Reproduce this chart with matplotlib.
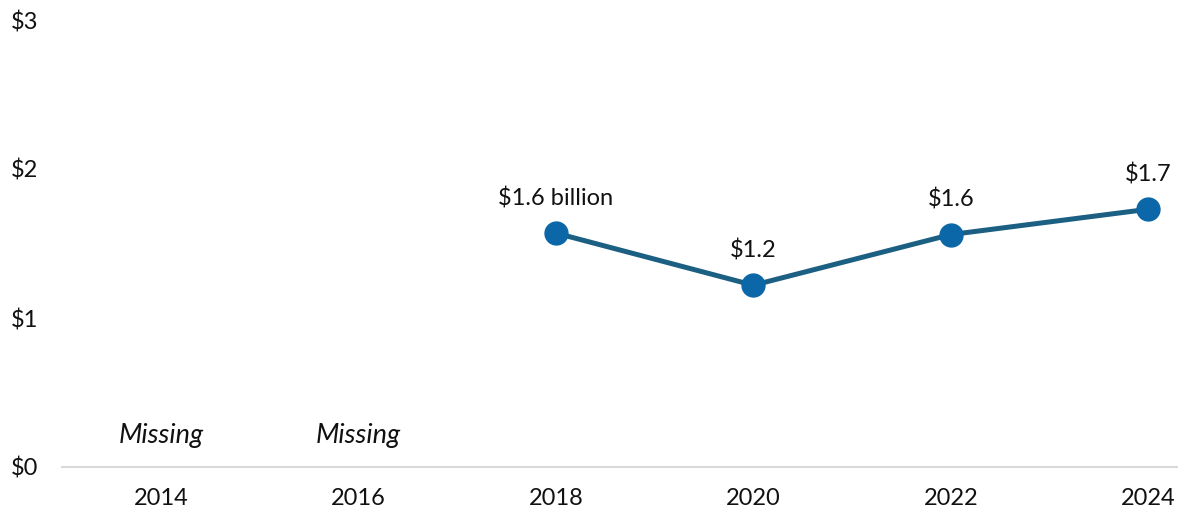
import matplotlib.pyplot as plt

plt.rcParams['font.family'] = ['Lato', 'DejaVu Sans']

years = ['2014', '2016', '2018', '2020', '2022', '2024']
values = [None, None, 1.57, 1.22, 1.56, 1.73]
labels = ['', '', '$1.6 billion', '$1.2', '$1.6', '$1.7']
missing = ['Missing', 'Missing', '', '', '', '']
y_ticks = [0, 1, 2, 3]
y_tick_labels = ['$0', '$1', '$2', '$3']

line_color = '#1b5f82'
marker_color = '#0b67a8'

fig = plt.figure(figsize=(11.78, 5.14), dpi=100)
ax = fig.add_axes([62 / 1178, 47 / 514, 1 - 62 / 1178, 447 / 514])

idx = [i for i, v in enumerate(values) if v is not None]
vals = [values[i] for i in idx]
ax.plot(idx, vals, color=line_color, lw=3.6, zorder=2)
ax.plot(idx, vals, 'o', color=marker_color, ms=16.5, zorder=3)

for i in idx:
    ax.annotate(labels[i], (i, values[i]), xytext=(0, 25), textcoords='offset points',
                ha='center', va='center', fontsize=17, color='#111111')

for i, m in enumerate(missing):
    if m:
        ax.text(i, 0.21, m, ha='center', va='center', fontsize=19.5,
                style='italic', color='#111111')

ax.set_xlim(-0.5, 5.15)
ax.set_ylim(0, 3)
ax.set_xticks(range(len(years)))
ax.set_xticklabels(years)
ax.set_yticks(y_ticks)
ax.set_yticklabels(y_tick_labels, ha='left')
ax.tick_params(axis='both', length=0, labelsize=17, colors='#111111')
ax.tick_params(axis='y', pad=37)
ax.tick_params(axis='x', pad=15)

for s in ['top', 'right', 'left']:
    ax.spines[s].set_visible(False)
ax.spines['bottom'].set_color('#d9d9d9')
ax.spines['bottom'].set_linewidth(1.5)

fig.savefig('out.png', dpi=100)
